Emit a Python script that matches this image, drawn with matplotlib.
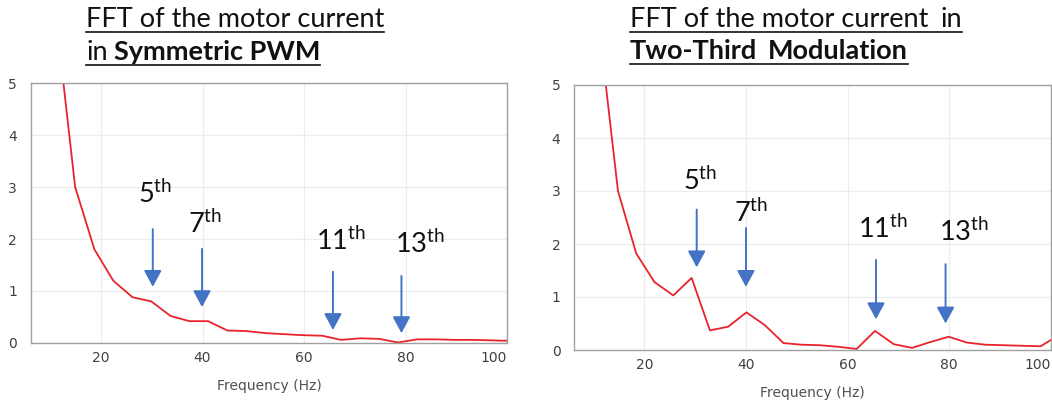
import matplotlib
matplotlib.use("Agg")
import matplotlib.pyplot as plt
from matplotlib.lines import Line2D

# Spectrum samples: frequency (Hz) and amplitude for each modulation scheme
freq_sym = [11.2, 14.9, 18.7, 22.4, 26.2, 29.9, 33.7, 37.4, 41.1, 44.9, 48.6,
            52.4, 56.1, 59.8, 63.6, 67.3, 71.1, 74.8, 78.5, 82.3, 86.0, 89.8,
            93.5, 97.2, 101.0]
amp_sym = [6.2, 3.0, 1.8, 1.2, 0.88, 0.80, 0.52, 0.42, 0.42, 0.24, 0.23,
           0.19, 0.17, 0.15, 0.14, 0.06, 0.09, 0.08, 0.01, 0.07, 0.07, 0.06,
           0.06, 0.05, 0.04]

freq_tt = [11.2, 14.8, 18.4, 22.0, 25.7, 29.3, 32.9, 36.5, 40.1, 43.7, 47.4,
           51.0, 54.6, 58.2, 61.8, 65.4, 69.1, 72.7, 76.3, 79.9, 83.5, 87.1,
           90.8, 94.4, 98.0, 101.6]
amp_tt = [6.0, 3.0, 1.82, 1.28, 1.03, 1.36, 0.37, 0.44, 0.71, 0.47, 0.13,
          0.10, 0.09, 0.06, 0.02, 0.36, 0.11, 0.04, 0.15, 0.25, 0.14, 0.10,
          0.09, 0.08, 0.07, 0.28]

harmonic_labels = ["5", "7", "11", "13"]
x_ticks = [20, 40, 60, 80, 100]
y_ticks = [0, 1, 2, 3, 4, 5]

# Harmonic markers: arrow x, arrow tail, arrow tip, label x, label baseline
arrows_sym = [(30.2, 2.19, 1.08, 27.3, 2.69),
              (39.9, 1.81, 0.69, 37.2, 2.12),
              (65.7, 1.37, 0.25, 62.3, 1.79),
              (79.2, 1.29, 0.19, 78.0, 1.74)]
arrows_tt = [(30.3, 2.65, 1.56, 27.6, 3.01),
             (40.0, 2.30, 1.19, 37.7, 2.42),
             (65.6, 1.70, 0.58, 62.1, 2.11),
             (79.3, 1.62, 0.50, 78.0, 2.06)]

plt.rcParams["mathtext.fontset"] = "custom"
plt.rcParams["mathtext.rm"] = "Lato"
plt.rcParams["mathtext.it"] = "Lato:italic"
plt.rcParams["mathtext.bf"] = "Lato:bold"

W, H = 1052, 407
fig = plt.figure(figsize=(W / 100, H / 100), dpi=100)

RED = "#e8232b"
BLUE = "#4472c4"


def make_axes(rect, freq, amp, arrows):
    ax = fig.add_axes(rect)
    ax.plot(freq, amp, color=RED, lw=1.3, clip_on=True)
    ax.set_xlim(6.2, 100)
    ax.set_ylim(0, 5)
    ax.set_xticks(x_ticks)
    ax.set_yticks(y_ticks)
    ax.set_xticklabels([str(t) for t in x_ticks])
    ax.get_xticklabels()[-1].set_horizontalalignment("right")
    ax.tick_params(axis="both", length=0, colors="#404040")
    ax.tick_params(axis="x", labelsize=10, pad=6)
    ax.tick_params(axis="y", labelsize=10, pad=10)
    ax.grid(True, color="#ececec", lw=0.8)
    ax.set_axisbelow(True)
    for sp in ax.spines.values():
        sp.set_color("#a0a0a0")
        sp.set_linewidth(1.0)
    ax.set_xlabel("Frequency (Hz)", fontsize=10, color="#505050", labelpad=10)
    for (ax_x, tail, tip, lx, ly), lab in zip(arrows, harmonic_labels):
        ax.annotate("", xy=(ax_x, tip), xytext=(ax_x, tail),
                    arrowprops=dict(arrowstyle="-|>,head_length=0.5,head_width=0.27",
                                    color=BLUE, lw=1.4, mutation_scale=20,
                                    shrinkA=0, shrinkB=0))
        ax.text(lx, ly, r"$\mathrm{%s}^{\mathrm{th}}$" % lab, fontsize=19.5,
                ha="left", va="baseline", color="#111111")
    return ax


make_axes([31 / W, 1 - 343 / H, 476 / W, 260 / H], freq_sym, amp_sym, arrows_sym)
make_axes([574.3 / W, 1 - 350 / H, 476.4 / W, 265 / H], freq_tt, amp_tt, arrows_tt)

fig.canvas.draw()
renderer = fig.canvas.get_renderer()


def title_line(x, baseline, runs, underline_gap=5):
    """Draw a row of text runs (text, weight, gap) and underline the row."""
    cx = x
    for s, weight, gap in runs:
        cx += gap
        t = fig.text(cx / W, 1 - baseline / H, s, fontsize=19.5, family="Lato",
                     weight=weight, ha="left", va="baseline", color="#111111")
        bb = t.get_window_extent(renderer)
        cx = bb.x1
    uy = 1 - (baseline + underline_gap) / H
    fig.add_artist(Line2D([x / W, cx / W], [uy, uy], transform=fig.transFigure,
                          color="#111111", lw=1.2))


title_line(86, 27, [("FFT of the motor current", "normal", 0)])
title_line(86, 60, [("in", "normal", 0), ("Symmetric PWM", "bold", 6)])
title_line(630, 27, [("FFT of the motor current", "normal", 0), ("in", "normal", 12)])
title_line(630, 59, [("Two-Third", "bold", 0), ("Modulation", "bold", 11)])

fig.savefig("out.png", dpi=100)
